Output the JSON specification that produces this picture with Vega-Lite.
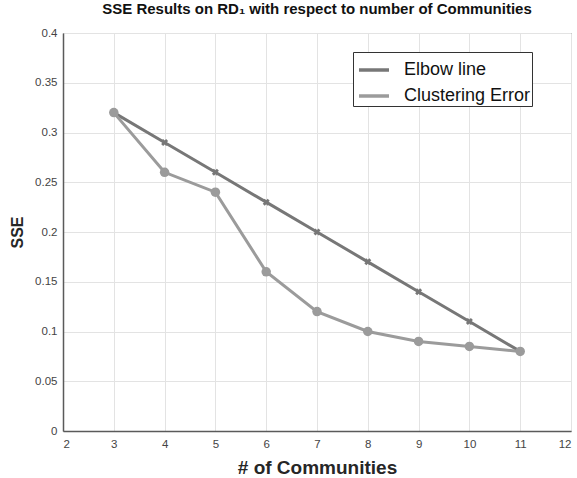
{
  "$schema": "https://vega.github.io/schema/vega-lite/v6.json",
  "autosize": {"type": "none"},
  "padding": {"left": 63, "top": 33, "right": 6, "bottom": 47},
  "width": 508,
  "height": 398,
  "background": "white",
  "config": {
    "font": "Liberation Sans",
    "view": {"stroke": "#5a5a5a", "strokeWidth": 1},
    "axis": {
      "gridColor": "#e3e3e3",
      "gridWidth": 1,
      "domainColor": "#5a5a5a",
      "domainWidth": 1.5,
      "tickColor": "#5a5a5a",
      "tickSize": 0,
      "labelColor": "#444444",
      "labelFontSize": 11.5,
      "labelFont": "Liberation Sans",
      "titleFont": "Liberation Sans",
      "titleFontWeight": "bold",
      "titleColor": "#262626"
    }
  },
  "title": {
    "text": "SSE Results on RD₁ with respect to number of Communities",
    "fontSize": 15,
    "fontWeight": "bold",
    "color": "#111111",
    "anchor": "middle",
    "offset": 10
  },
  "data": {
    "values": [
      {"k": 3, "sse": 0.32, "series": "Elbow line"},
      {"k": 4, "sse": 0.29, "series": "Elbow line"},
      {"k": 5, "sse": 0.26, "series": "Elbow line"},
      {"k": 6, "sse": 0.23, "series": "Elbow line"},
      {"k": 7, "sse": 0.20, "series": "Elbow line"},
      {"k": 8, "sse": 0.17, "series": "Elbow line"},
      {"k": 9, "sse": 0.14, "series": "Elbow line"},
      {"k": 10, "sse": 0.11, "series": "Elbow line"},
      {"k": 11, "sse": 0.08, "series": "Elbow line"},
      {"k": 3, "sse": 0.32, "series": "Clustering Error"},
      {"k": 4, "sse": 0.26, "series": "Clustering Error"},
      {"k": 5, "sse": 0.24, "series": "Clustering Error"},
      {"k": 6, "sse": 0.16, "series": "Clustering Error"},
      {"k": 7, "sse": 0.12, "series": "Clustering Error"},
      {"k": 8, "sse": 0.10, "series": "Clustering Error"},
      {"k": 9, "sse": 0.09, "series": "Clustering Error"},
      {"k": 10, "sse": 0.085, "series": "Clustering Error"},
      {"k": 11, "sse": 0.08, "series": "Clustering Error"}
    ]
  },
  "encoding": {
    "x": {
      "field": "k", "type": "quantitative",
      "scale": {"domain": [2, 12], "nice": false},
      "axis": {"values": [2,3,4,5,6,7,8,9,10,11,12], "title": "# of Communities", "titleFontSize": 19, "labelPadding": 7, "titlePadding": 9}
    },
    "y": {
      "field": "sse", "type": "quantitative",
      "scale": {"domain": [0, 0.4], "nice": false},
      "axis": {"values": [0,0.05,0.1,0.15,0.2,0.25,0.3,0.35,0.4], "format": ".2~f", "title": "SSE", "titleFontSize": 16, "labelPadding": 6, "titlePadding": 9}
    },
    "color": {
      "field": "series", "type": "nominal",
      "scale": {"domain": ["Elbow line", "Clustering Error"], "range": ["#777777", "#9b9b9b"]}
    }
  },
  "layer": [
    {
      "mark": {"type": "line", "strokeWidth": 3},
      "encoding": {
        "color": {
          "field": "series", "type": "nominal",
          "legend": {
            "title": null,
            "orient": "none",
            "legendX": 290,
            "legendY": 19,
            "direction": "vertical",
            "symbolType": "stroke",
            "symbolStrokeWidth": 3.5,
            "symbolSize": 900,
            "symbolOffset": 3,
            "labelFontSize": 18,
            "labelColor": "#111111",
            "labelFont": "Liberation Sans",
            "labelOffset": 13,
            "fillColor": "white",
            "strokeColor": "#333333",
            "padding": 1,
            "rowPadding": -6,
            "labelLimit": 300
          }
        }
      }
    },
    {
      "transform": [{"filter": "datum.series == 'Elbow line'"}],
      "mark": {"type": "point", "shape": "cross", "angle": 45, "filled": true, "size": 50, "opacity": 1},
      "encoding": {"color": {"field": "series", "type": "nominal", "legend": null}}
    },
    {
      "transform": [{"filter": "datum.series == 'Clustering Error'"}],
      "mark": {"type": "point", "shape": "circle", "filled": true, "size": 90, "opacity": 1},
      "encoding": {"color": {"field": "series", "type": "nominal", "legend": null}}
    }
  ]
}
